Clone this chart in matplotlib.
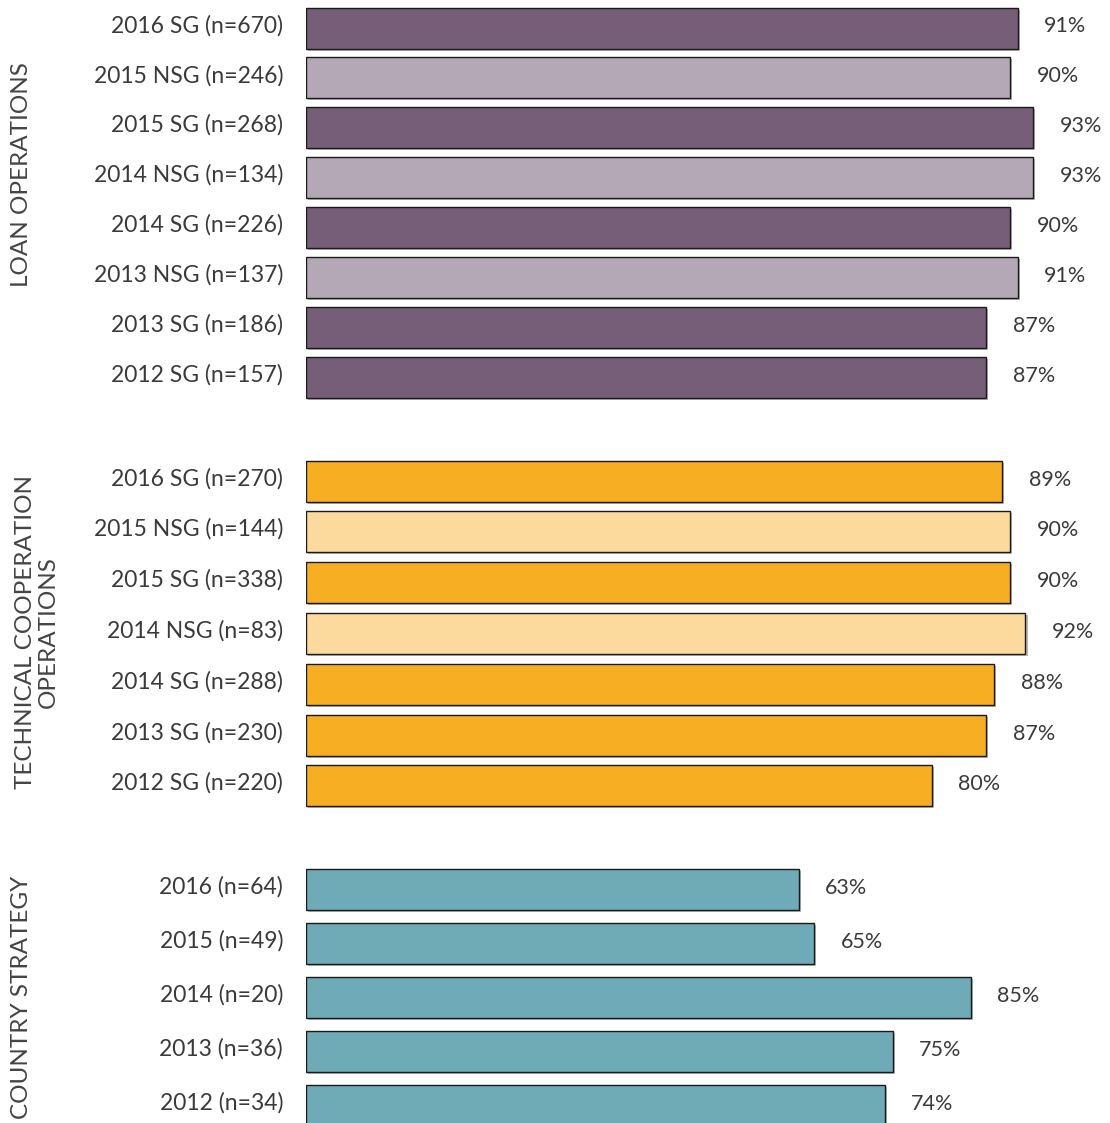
import matplotlib.pyplot as plt
import matplotlib.patheffects as pe
from matplotlib.transforms import ScaledTranslation

plt.rcParams['font.family'] = ['Lato', 'DejaVu Sans']

# loan operations
loan_labels = ['2016 SG (n=670)', '2015 NSG (n=246)', '2015 SG (n=268)', '2014 NSG (n=134)',
               '2014 SG (n=226)', '2013 NSG (n=137)', '2013 SG (n=186)', '2012 SG (n=157)']
loan_values = [91, 90, 93, 93, 90, 91, 87, 87]
loan_nsg = [False, True, False, True, False, True, False, False]

# technical cooperation operations
tc_labels = ['2016 SG (n=270)', '2015 NSG (n=144)', '2015 SG (n=338)', '2014 NSG (n=83)',
             '2014 SG (n=288)', '2013 SG (n=230)', '2012 SG (n=220)']
tc_values = [89, 90, 90, 92, 88, 87, 80]
tc_nsg = [False, True, False, True, False, False, False]

# country strategies
cs_labels = ['2016 (n=64)', '2015 (n=49)', '2014 (n=20)', '2013 (n=36)', '2012 (n=34)']
cs_values = [63, 65, 85, 75, 74]
cs_nsg = [False] * 5

W, H = 1110, 1123
fig = plt.figure(figsize=(W / 100, H / 100), dpi=100, facecolor='white')

x0 = 306
px_per_pct = 7.82
xmax = (W - x0) / px_per_pct

groups = [
    # labels, values, nsg flags, colours (SG, NSG), first centre px, pitch px
    (loan_labels, loan_values, loan_nsg, ('#765e78', '#b5a8b6'), 28, 49.9),
    (tc_labels, tc_values, tc_nsg, ('#f7ae22', '#fcd99c'), 481, 50.8),
    (cs_labels, cs_values, cs_nsg, ('#6faab7', '#6faab7'), 889, 54.0),
]

shadow = [pe.SimplePatchShadow(offset=(1.5, -1.5), shadow_rgbFace='#888888', alpha=0.6), pe.Normal()]
value_shift = ScaledTranslation(0, 1.5 / 100, fig.dpi_scale_trans)
label_shift = ScaledTranslation(-23 / 100, 2.5 / 100, fig.dpi_scale_trans)

for labels, values, nsg, cols, c0, pitch in groups:
    n = len(values)
    top = c0 - pitch / 2
    height = n * pitch
    ax = fig.add_axes([x0 / W, 1 - (top + height) / H, (W - x0) / W, height / H])
    colors = [cols[1] if f else cols[0] for f in nsg]
    bars = ax.barh(range(n), values, height=41 / pitch, color=colors,
                   edgecolor='#1a1a1a', linewidth=1.0)
    for b in bars:
        b.set_path_effects(shadow)
    for i, v in enumerate(values):
        ax.text(v + 3.4, i, f'{v}%', va='center', ha='left', fontsize=15.5, color='#3a3a3a',
                transform=ax.transData + value_shift)
    # category labels left of the bars
    for i, lab in enumerate(labels):
        ax.text(0, i, lab, va='center', ha='right', fontsize=16.5, color='#3a3a3a',
                transform=ax.get_yaxis_transform() + label_shift)
    ax.set_xlim(0, xmax)
    ax.set_ylim(n - 0.5, -0.5)
    ax.set_xticks([])
    ax.set_yticks([])
    for s in ax.spines.values():
        s.set_visible(False)
    ax.patch.set_alpha(0)

fig.text(22 / W, 1 - 175 / H, 'LOAN OPERATIONS', rotation=90, ha='center', va='center',
         fontsize=17.5, color='#444444')
fig.text(37 / W, 1 - 632 / H, 'TECHNICAL COOPERATION\nOPERATIONS', rotation=90, ha='center',
         va='center', fontsize=17.5, color='#444444', linespacing=1.15, multialignment='center')
fig.text(22 / W, 1 - 997 / H, 'COUNTRY STRATEGY', rotation=90, ha='center', va='center',
         fontsize=17.5, color='#444444')

fig.savefig('out.png', dpi=100)
